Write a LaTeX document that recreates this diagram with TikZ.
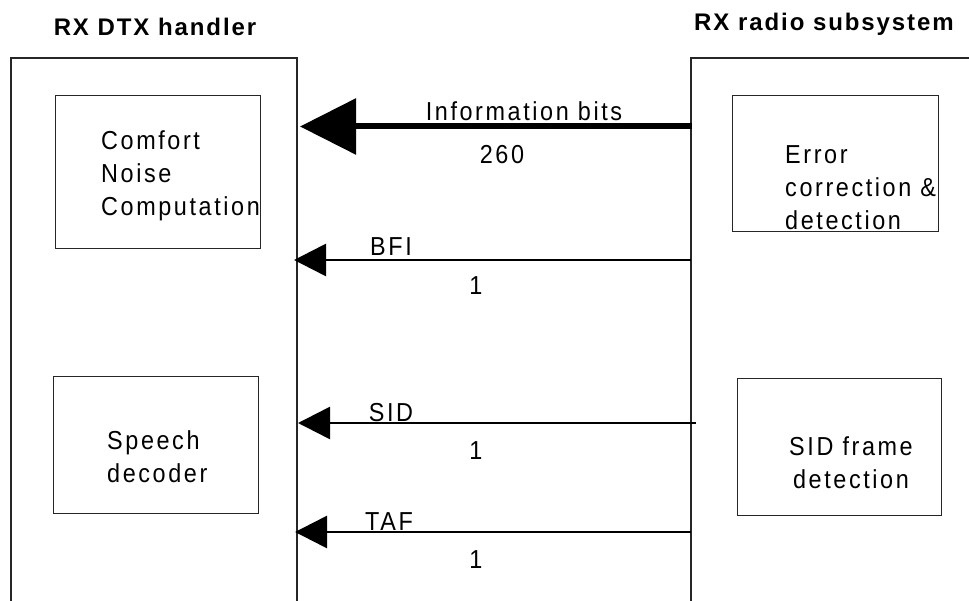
\documentclass[tikz,border=0pt]{standalone}
\usepackage{fontspec}
\setmainfont[LetterSpace=8]{Liberation Sans}
\newfontfamily\bodyfont[LetterSpace=10,FakeStretch=0.9]{Liberation Sans}
\usetikzlibrary{arrows.meta}
\begin{document}
\begin{tikzpicture}[x=1pt,y=-1pt,
  txt/.style={font=\bodyfont\fontsize{26}{33}\selectfont, inner sep=0pt},
  headtxt/.style={font=\bfseries\fontsize{24}{28}\selectfont, inner sep=0pt},
  frame/.style={draw=black!85, line width=1.5pt},
  blk/.style={draw=black!85, line width=1.3pt, rectangle, inner sep=0pt, anchor=north west},
  sig/.style={line width=2.6pt, -{Triangle[length=32pt,width=32pt]}},
  bigsig/.style={line width=6pt, -{Triangle[length=56pt,width=55pt]}}]
\fill[white] (0,0) rectangle (969,601);
\useasboundingbox (0,0) rectangle (969,601);

% headings
\node[headtxt] (hl) at (155,27) {RX DTX handler};
\node[headtxt] (hr) at (824,24) {RX radio subsystem};

% outer frames (open at the bottom / right)
\coordinate (lfa) at (11,601);
\coordinate (lfb) at (11,58);
\coordinate (lfc) at (297,58);
\coordinate (lfd) at (297,601);
\draw[frame] (lfa) -- (lfb) -- (lfc) -- (lfd);
\coordinate (rfa) at (691,601);
\coordinate (rfb) at (691,58);
\coordinate (rfc) at (969,58);
\draw[frame] (rfa) -- (rfb) -- (rfc);

% inner blocks
\node[blk, minimum width=205pt, minimum height=153pt] (cnc) at (55,95) {};
\node[blk, minimum width=206pt, minimum height=136pt] (ecd) at (732,95) {};
\node[blk, minimum width=205pt, minimum height=137pt] (spd) at (53,376) {};
\node[blk, minimum width=204pt, minimum height=137pt] (sfd) at (737,378) {};

\node[txt, anchor=west, align=left] (cnct) at (101,176) {Comfort\\Noise\\Computation};
\node[txt, anchor=west, align=left] (ecdt) at (785,188) {Error\\correction \&\\detection};
\node[txt, anchor=west, align=left] (spdt) at (107,457) {Speech\\decoder};
\node[txt, align=center] (sfdt) at (851,463) {SID frame\\detection};

% signals
\coordinate (infoR) at (692,126.5);
\coordinate (infoL) at (300,126.5);
\draw[bigsig] (infoR) -- (infoL);
\node[txt] (infol) at (524,111) {Information bits};
\node[txt] (infon) at (502,155) {260};

\coordinate (bfiR) at (691,260);
\coordinate (bfiL) at (294,260);
\draw[sig] (bfiR) -- (bfiL);
\node[txt] (bfil) at (391,246.5) {BFI};
\node[txt] (bfin) at (476,286) {1};

\coordinate (sidR) at (696,423);
\coordinate (sidL) at (298,423);
\draw[sig] (sidR) -- (sidL);
\node[txt] (sidl) at (391,413) {SID};
\node[txt] (sidn) at (476,451) {1};

\coordinate (tafR) at (691,532);
\coordinate (tafL) at (295,532);
\draw[sig] (tafR) -- (tafL);
\node[txt] (tafl) at (389,522) {TAF};
\node[txt] (tafn) at (476,560) {1};
\end{tikzpicture}
\end{document}
